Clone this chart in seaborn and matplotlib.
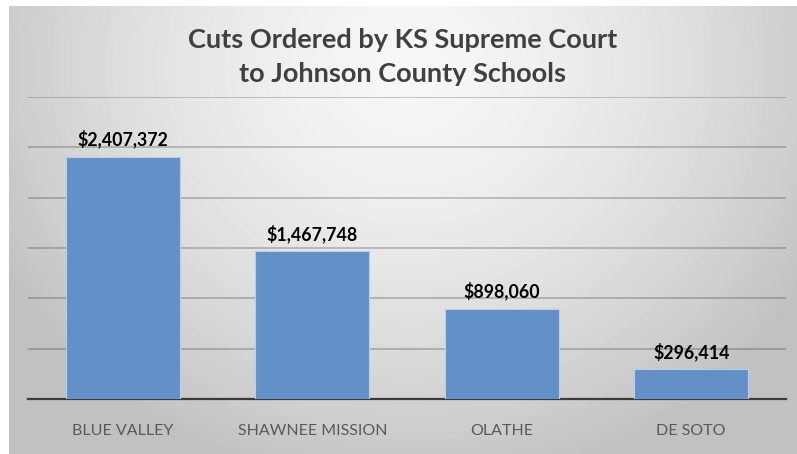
'''bar chart of court ordered cuts'''
import numpy as np
import pandas as pd
import seaborn as sns
import matplotlib.pyplot as plt
from matplotlib.colors import LinearSegmentedColormap

#region data
districts = ['BLUE VALLEY', 'SHAWNEE MISSION', 'OLATHE', 'DE SOTO']
cuts = [2407372, 1467748, 898060, 296414]
title = 'Cuts Ordered by KS Supreme Court\nto Johnson County Schools'
#endregion

sns.set_theme(style='white')
plt.rcParams['font.family'] = ['Lato', 'DejaVu Sans']

W, H = 797, 454
fig = plt.figure(figsize=(W / 100, H / 100), dpi=100)
fig.patch.set_facecolor('white')

# gray radial backdrop, lighter at the top middle
bg = fig.add_axes([9 / W, 0, 1 - 9 / W, 1 - 6 / H])
bg.set_axis_off()
yy, xx = np.mgrid[0:448, 0:788]
r = np.sqrt(((xx - 400) / 520.0) ** 2 + ((yy - 60) / 480.0) ** 2)
shade = np.clip(0.965 - 0.25 * r ** 1.6, 0.76, 1)
cmap = LinearSegmentedColormap.from_list('g', ['black', 'white'])
bg.imshow(shade, cmap=cmap, vmin=0, vmax=1, aspect='auto', interpolation='bilinear')
bg.set_zorder(0)

ax = fig.add_axes([28 / W, (H - 399) / H, (786 - 28) / W, (399 - 97) / H])
ax.set_zorder(1)
ax.patch.set_alpha(0)

df = pd.DataFrame({'district': districts, 'cut': cuts})
sns.barplot(data=df, x='district', y='cut', color='#6390c6', saturation=1,
            width=0.6, edgecolor='#b9cfe9', linewidth=0.8, ax=ax, zorder=3)

ax.set_ylim(0, 3000000)
ax.set_yticks(np.arange(0, 3000001, 500000))
ax.yaxis.grid(True, color='black', alpha=0.2, lw=1.4, zorder=0)
ax.set_axisbelow(True)
ax.tick_params(left=False, labelleft=False, bottom=False, pad=12)
for s in ['top', 'right', 'left']:
    ax.spines[s].set_visible(False)
ax.spines['bottom'].set_color('#3a3a3a')
ax.spines['bottom'].set_linewidth(1.6)
ax.set_xlabel('')
ax.set_ylabel('')
for lab in ax.get_xticklabels():
    lab.set_color('#595959')
    lab.set_fontsize(11.5)

ax.bar_label(ax.containers[0], labels=['${:,}'.format(v) for v in cuts],
             padding=6, fontsize=12.8, fontweight='bold', color='black')

fig.text(0.5 + 4 / W, 1 - 57 / H, title, ha='center', va='center',
         fontsize=19.5, fontweight='bold', color='#404040', linespacing=1.45)

fig.savefig('out.png', dpi=100)
